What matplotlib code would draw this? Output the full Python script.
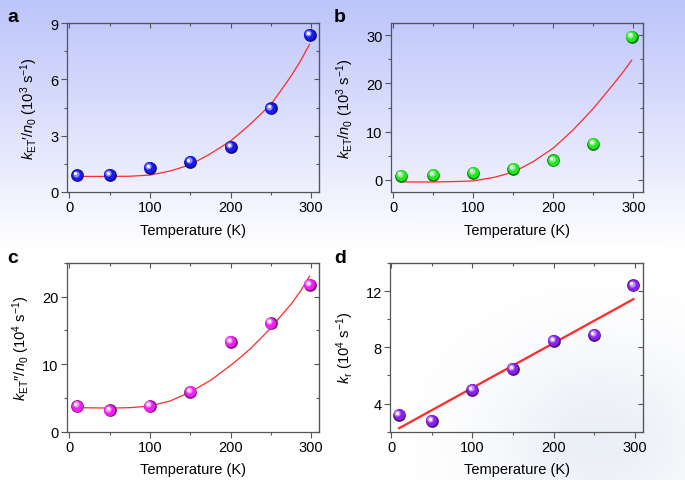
"""
Temperature dependence of energy transfer / radiative rates (4 panels)
"""
import matplotlib
matplotlib.use("Agg")
import matplotlib.pyplot as plt
import numpy as np
from matplotlib.ticker import MultipleLocator
from matplotlib.transforms import offset_copy
from matplotlib.colors import to_rgb

plt.rcParams["font.family"] = ["Liberation Sans", "DejaVu Sans"]
plt.rcParams["mathtext.fontset"] = "custom"
plt.rcParams["mathtext.rm"] = "Liberation Sans"
plt.rcParams["mathtext.it"] = "Liberation Sans:italic"
plt.rcParams["font.size"] = 10.5

# ---- data ----
temp = [10, 50, 100, 150, 200, 250, 298]

kA = [0.89, 0.92, 1.28, 1.60, 2.40, 4.46, 8.37]          # 10^3 s^-1
kB = [0.90, 1.04, 1.53, 2.30, 4.03, 7.43, 29.7]          # 10^3 s^-1
kC = [3.80, 3.16, 3.80, 5.88, 13.3, 16.1, 21.8]          # 10^4 s^-1
kD = [3.21, 2.76, 4.98, 6.48, 8.48, 8.90, 12.4]          # 10^4 s^-1

fit_t = [10, 50, 75, 100, 125, 150, 175, 200, 212, 225, 237, 250, 262, 275, 287, 298]
fitA = [0.83, 0.83, 0.84, 0.90, 1.12, 1.45, 2.04, 2.72, 3.15, 3.64, 4.13, 4.67, 5.38, 6.18, 7.00, 7.87]
fitB = [-0.42, -0.42, -0.35, -0.20, 0.50, 1.60, 3.80, 6.60, 8.40, 10.4, 12.5, 14.8, 17.2, 19.8, 22.3, 24.8]
fitC = [3.56, 3.50, 3.56, 3.80, 4.55, 5.88, 7.60, 9.83, 11.0, 12.35, 13.8, 15.4, 17.1, 18.9, 20.9, 23.07]
fitD_t = [10, 298]
fitD = [2.25, 11.43]

W, H = 685, 481
fig = plt.figure(figsize=(W / 100, H / 100), dpi=100)

# ---- background wash (lavender at top, fading to white) ----
bg = fig.add_axes([0, 0, 1, 1], zorder=-10)
yy, xx = np.mgrid[0:H, 0:W]
t = np.clip((0.52 - yy / H) / 0.52, 0, 1)[..., None]
top = np.array([188, 196, 250]) / 255.0
img = (1 - t) * 1.0 + t * top
g = np.exp(-(((xx - 600) / 110.0) ** 2 + ((yy - 440) / 90.0) ** 2))[..., None] * 0.6
img = (1 - g) * img + g * (np.array([222, 228, 240]) / 255.0)
bg.imshow(img, extent=[0, 1, 0, 1], aspect="auto", origin="upper")
bg.axis("off")

spine_col = "#555555"


def balls(ax, x, y, color):
    c = np.array(to_rgb(color))
    dark = c * 0.55
    light = c + (1 - c) * 0.5
    ax.plot(x, y, "o", ms=9.2, color=dark, mew=0, zorder=3, clip_on=False)
    tr = offset_copy(ax.transData, fig=fig, x=-0.4, y=0.4, units="points")
    ax.plot(x, y, "o", ms=8.0, color=c, mew=0, zorder=4, transform=tr, clip_on=False)
    tr = offset_copy(ax.transData, fig=fig, x=-1.2, y=1.2, units="points")
    ax.plot(x, y, "o", ms=4.5, color=light, mew=0, zorder=5, transform=tr, clip_on=False)
    tr = offset_copy(ax.transData, fig=fig, x=-1.5, y=1.5, units="points")
    ax.plot(x, y, "o", ms=2.2, color="white", mew=0, zorder=6, transform=tr, clip_on=False)


def setup(ax, xlim, ylim, ymaj, ymin, ylabel, letter, lpos):
    ax.set_facecolor("none")
    ax.set_xlim(*xlim)
    ax.set_ylim(*ylim)
    ax.xaxis.set_major_locator(MultipleLocator(100))
    ax.xaxis.set_minor_locator(MultipleLocator(50))
    ax.yaxis.set_major_locator(MultipleLocator(ymaj))
    ax.yaxis.set_minor_locator(MultipleLocator(ymin))
    for s in ax.spines.values():
        s.set_color(spine_col)
        s.set_linewidth(0.9)
    ax.tick_params(which="major", direction="out", length=4, width=0.8, color=spine_col, pad=2)
    ax.tick_params(which="minor", direction="out", length=2.2, width=0.8, color=spine_col)
    # mirrored inward ticks on top and right
    sx = ax.secondary_xaxis("top")
    sx.xaxis.set_major_locator(MultipleLocator(100))
    sx.xaxis.set_minor_locator(MultipleLocator(50))
    sx.tick_params(which="major", direction="in", length=3.5, width=0.8, color=spine_col, labeltop=False)
    sx.tick_params(which="minor", direction="in", length=2, width=0.8, color=spine_col)
    sx.spines["top"].set_color(spine_col)
    sy = ax.secondary_yaxis("right")
    sy.yaxis.set_major_locator(MultipleLocator(ymaj))
    sy.yaxis.set_minor_locator(MultipleLocator(ymin))
    sy.tick_params(which="major", direction="in", length=3.5, width=0.8, color=spine_col, labelright=False)
    sy.tick_params(which="minor", direction="in", length=2, width=0.8, color=spine_col)
    sy.spines["right"].set_color(spine_col)
    ax.set_xlabel("Temperature (K)", labelpad=6)
    ax.set_ylabel(ylabel, labelpad=7)
    fig.text(lpos[0] / W, 1 - lpos[1] / H, letter, weight="bold", size=14, ha="left", va="top")


axA = fig.add_axes([66.7 / W, 1 - 193 / H, 252.6 / W, 169 / H])
axB = fig.add_axes([390.7 / W, 1 - 193 / H, 252.6 / W, 169 / H])
axC = fig.add_axes([66.7 / W, 1 - 432.7 / H, 252.6 / W, 168.7 / H])
axD = fig.add_axes([390.2 / W, 1 - 432.7 / H, 253 / W, 168.7 / H])

setup(axA, (-3.3, 310), (0, 9), 3, 1.5,
      "$k_{\\rm ET}$\u2032/$n_0$ (10$^3$ s$^{-1}$)", "a", (7, 9))
setup(axB, (-3.2, 312.5), (-2.5, 32.5), 10, 5,
      "$k_{\\rm ET}$/$n_0$ (10$^3$ s$^{-1}$)", "b", (334, 9))
setup(axC, (-3.3, 310), (0, 25), 10, 5,
      "$k_{\\rm ET}$\u2033/$n_0$ (10$^4$ s$^{-1}$)", "c", (7, 250))
setup(axD, (-1, 310), (2, 14), 4, 2,
      "$k_{\\rm r}$ (10$^4$ s$^{-1}$)", "d", (334, 250))

red = "#ff2a2a"
axA.plot(fit_t, fitA, color=red, lw=0.9, zorder=2)
axB.plot(fit_t, fitB, color=red, lw=0.9, zorder=2)
axC.plot(fit_t, fitC, color=red, lw=0.9, zorder=2)
axD.plot(fitD_t, fitD, color=red, lw=1.6, zorder=2)

balls(axA, temp, kA, "#1a1aee")
balls(axB, temp, kB, "#22e622")
balls(axC, temp, kC, "#f020f0")
balls(axD, temp, kD, "#8a22ee")

fig.savefig("out.png", dpi=100)
